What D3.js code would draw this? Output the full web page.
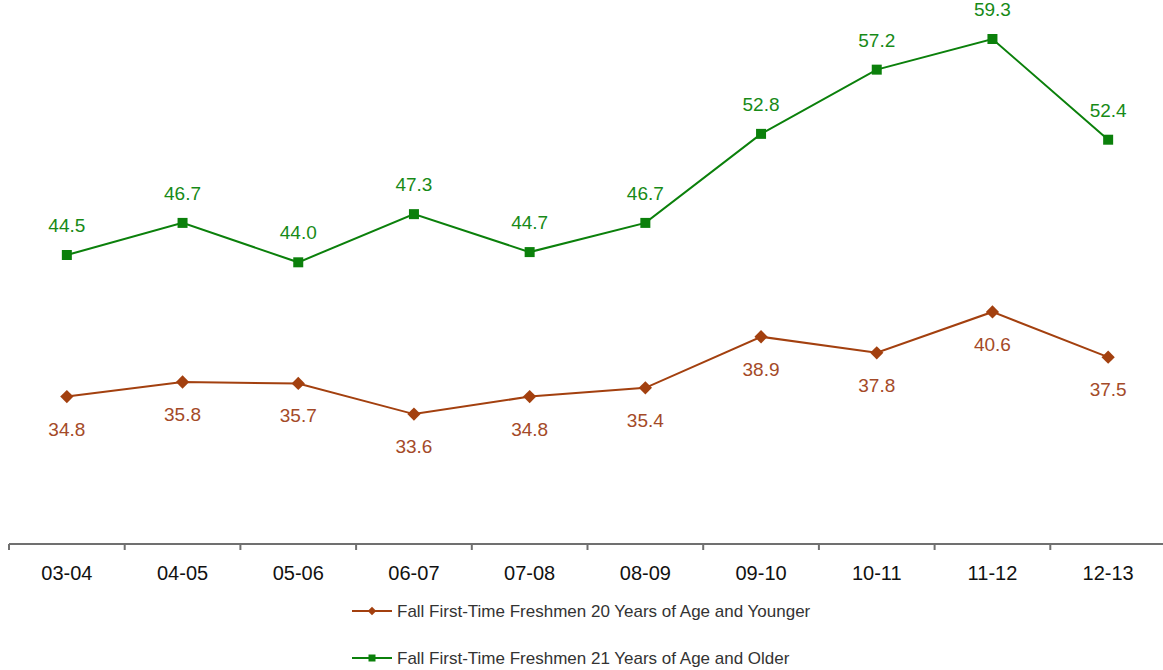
<!DOCTYPE html>
<html><head><meta charset="utf-8">
<script src="https://cdn.jsdelivr.net/npm/d3@7"></script>
<style>body{margin:0;background:#fff}svg{display:block}</style>
</head><body>
<svg id="c" width="1163" height="670"></svg>
<script>
const categories = ["03-04","04-05","05-06","06-07","07-08","08-09","09-10","10-11","11-12","12-13"];
const younger = [34.8,35.8,35.7,33.6,34.8,35.4,38.9,37.8,40.6,37.5];
const older = [44.5,46.7,44.0,47.3,44.7,46.7,52.8,57.2,59.3,52.4];
const seriesNames = ["Fall First-Time Freshmen 20 Years of Age and Younger","Fall First-Time Freshmen 21 Years of Age and Older"];

const svg = d3.select("#c");
const font = "Arial, 'Liberation Sans', sans-serif";
const red = "#a3400f", green = "#0b800b";

const x = d3.scaleBand().domain(categories).range([9, 1166]);
const y = d3.scaleLinear().domain([24.7, 59.3]).range([544, 39]);

// axis
const axis = d3.axisBottom(x).tickSize(0).tickPadding(0);
const gx = svg.append("g").attr("transform","translate(0,544)").call(axis);
gx.select(".domain").remove();
svg.append("line").attr("x1",9).attr("x2",1163).attr("y1",544).attr("y2",544)
  .attr("stroke","#707070").attr("stroke-width",2);
const boundaries = categories.map(c => x(c));
svg.selectAll("line.tk").data(boundaries).enter().append("line").attr("class","tk")
  .attr("x1",d=>d).attr("x2",d=>d).attr("y1",544).attr("y2",550)
  .attr("stroke","#707070").attr("stroke-width",2);
gx.selectAll(".tick text").attr("y",36).attr("dy",0)
  .attr("font-family",font).attr("font-size",20).attr("fill","#111");

const cx = c => x(c) + x.bandwidth()/2;
const line = d3.line().x((d,i)=>cx(categories[i])).y(d=>y(d));

function drawSeries(vals, color, labelColor, diamond, labelDy){
  svg.append("path").datum(vals).attr("d",line).attr("fill","none")
    .attr("stroke",color).attr("stroke-width",2);
  const sym = d3.symbol().type(d3.symbolSquare).size(diamond?88:100);
  svg.selectAll(null).data(vals).enter().append("path")
    .attr("d",sym).attr("fill",color)
    .attr("transform",(d,i)=>`translate(${cx(categories[i])},${y(d)})${diamond?" rotate(45)":""}`);
  svg.selectAll(null).data(vals).enter().append("text")
    .attr("x",(d,i)=>cx(categories[i])).attr("y",d=>y(d)+labelDy)
    .attr("text-anchor","middle").attr("font-family",font).attr("font-size",19)
    .attr("fill",labelColor).text(d=>d.toFixed(1));
}
drawSeries(older, green, "#178a17", false, -23);
drawSeries(younger, red, "#a44a28", true, 39);

// legend
const legend = [{name:seriesNames[0], color:red, y:611, diamond:true},{name:seriesNames[1], color:green, y:658, diamond:false}];
legend.forEach(l=>{
  svg.append("line").attr("x1",352).attr("x2",392).attr("y1",l.y).attr("y2",l.y)
    .attr("stroke",l.color).attr("stroke-width",2);
  svg.append("path").attr("d",d3.symbol().type(d3.symbolSquare).size(l.diamond?36:49)())
    .attr("fill",l.color)
    .attr("transform",`translate(372,${l.y})${l.diamond?" rotate(45)":""}`);
  svg.append("text").attr("x",397).attr("y",l.y+6).attr("font-family",font)
    .attr("font-size",17).attr("fill","#333").text(l.name);
});
</script>
</body></html>
